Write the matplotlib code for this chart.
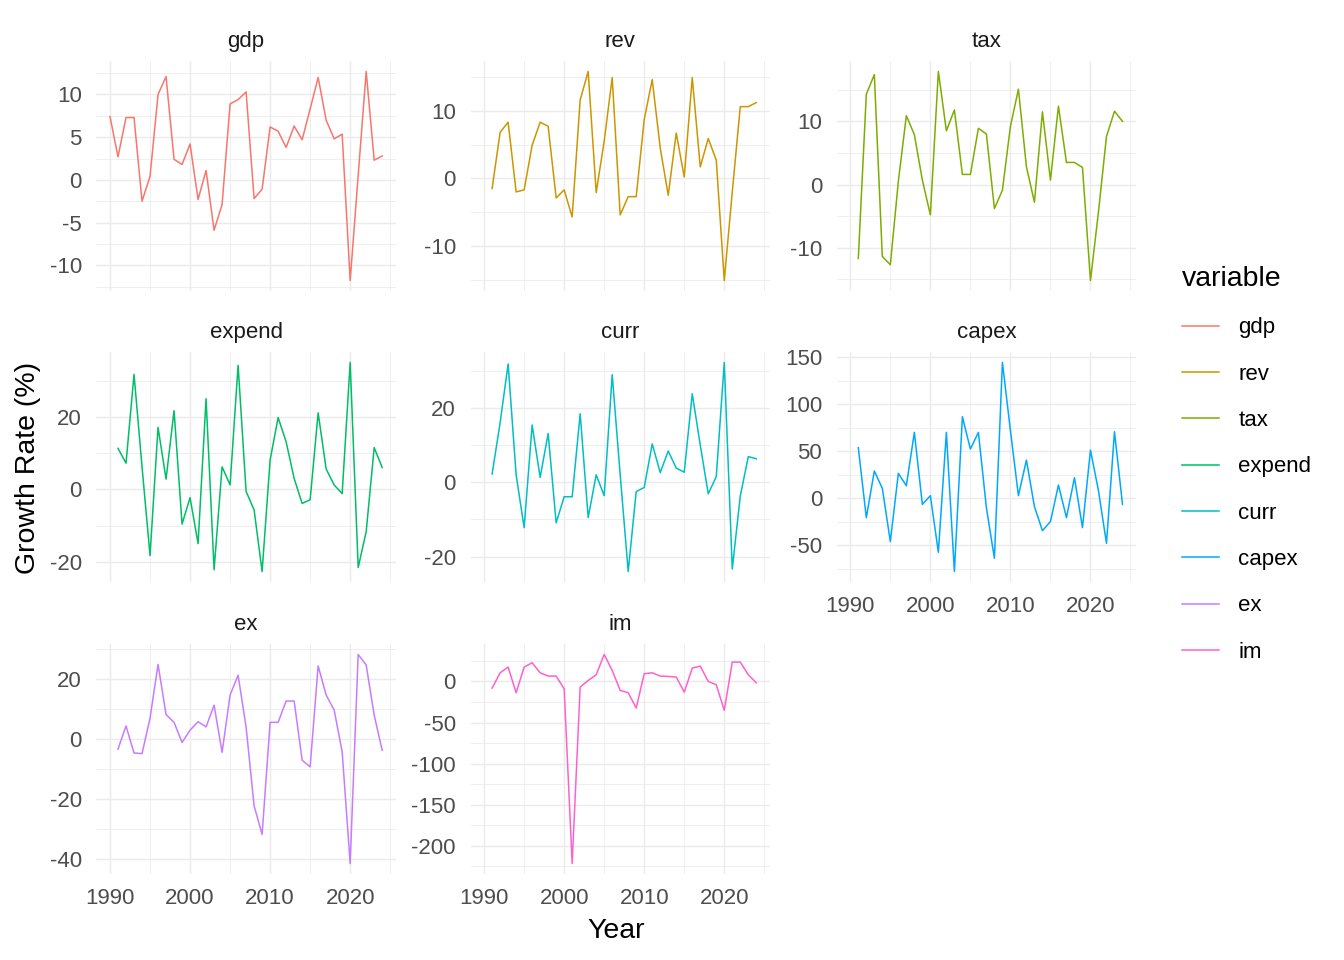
import numpy as np
import matplotlib
matplotlib.use("Agg")
import matplotlib.pyplot as plt
from matplotlib.lines import Line2D

plt.rcParams['font.family'] = ['Liberation Sans', 'DejaVu Sans']
plt.rcParams['axes.unicode_minus'] = False

# ---------------- data ----------------
years_gdp = list(range(1990, 2025))
years = list(range(1991, 2025))

gdp = [7.4, 2.7, 7.3, 7.3, -2.5, 0.4, 10.0, 12.1, 2.4, 1.8, 4.2, -2.3, 1.1, -5.9, -2.9,
       8.9, 9.4, 10.3, -2.2, -1.1, 6.2, 5.7, 3.8, 6.3, 4.7, 8.3, 12.0, 7.0, 4.8, 5.35,
       -11.8, 0.5, 12.7, 2.3, 2.8]
rev = [-1.5, 6.8, 8.3, -2.0, -1.7, 4.9, 8.3, 7.7, -2.9, -1.7, -5.7, 11.6, 15.8, -2.1, 5.5,
       14.9, -5.4, -2.7, -2.7, 8.7, 14.6, 4.5, -2.5, 6.7, 0.2, 14.9, 1.7, 5.9, 2.7, -15.1,
       -2.0, 10.6, 10.6, 11.2]
tax = [-11.7, 14.3, 17.4, -11.4, -12.7, 0.5, 10.9, 7.9, 0.7, -4.8, 17.9, 8.5, 11.8, 1.6, 1.6,
       8.9, 8.0, -3.8, -0.9, 9.2, 15.1, 2.8, -2.8, 11.5, 0.7, 12.4, 3.5, 3.5, 2.7, -15.2,
       -4.3, 7.6, 11.6, 10.0]
expend = [11.3, 7.2, 31.7, 6.2, -18.3, 17.1, 2.8, 21.7, -9.6, -2.3, -15.0, 25.0, -22.2, 6.2, 1.2,
          34.2, -0.6, -5.7, -22.7, 8.1, 19.8, 13.1, 3.0, -3.9, -2.9, 21.1, 5.6, 1.2, -1.2, 35.0,
          -21.6, -11.7, 11.5, 6.0]
curr = [2.2, 16.0, 31.8, 2.0, -12.2, 15.4, 1.3, 13.1, -10.9, -3.9, -3.9, 18.4, -9.5, 2.0, -3.6,
        28.9, 2.0, -24.0, -2.5, -1.4, 10.3, 2.6, 8.4, 3.8, 2.7, 23.8, 10.0, -3.1, 1.5, 32.2,
        -23.3, -3.7, 6.9, 6.3]
capex = [53.7, -20.5, 29.0, 10.6, -45.9, 26.5, 13.4, 70.0, -6.4, 2.8, -57.2, 70.0, -77.7, 86.6, 52.3,
         70.0, -10.0, -63.6, 144.2, 72.0, 2.8, 40.6, -8.8, -34.3, -24.7, 14.1, -20.5, 21.9, -31.1, 51.2,
         8.0, -47.7, 70.7, -6.4]
ex = [-3.3, 4.4, -4.6, -4.8, 7.0, 24.9, 8.2, 5.6, -1.1, 3.0, 5.8, 4.1, 11.3, -4.4, 14.7,
      21.3, 4.0, -22.2, -31.7, 5.6, 5.6, 12.7, 12.7, -7.0, -9.2, 24.4, 14.7, 9.7, -4.2, -41.4,
      28.2, 24.7, 8.0, -3.7]
im = [-8.1, 10.5, 17.4, -13.8, 17.4, 22.7, 10.5, 6.5, 6.5, -8.9, -221.5, -6.9, 1.2, 8.1, 32.8,
      13.4, -10.9, -13.8, -32.4, 9.3, 10.5, 6.5, 6.1, 5.3, -13.0, 16.2, 18.6, 0.0, -4.0, -35.2,
      23.5, 23.5, 8.1, -1.6]

variables = ['gdp', 'rev', 'tax', 'expend', 'curr', 'capex', 'ex', 'im']
series = {'gdp': (years_gdp, gdp), 'rev': (years, rev), 'tax': (years, tax),
          'expend': (years, expend), 'curr': (years, curr), 'capex': (years, capex),
          'ex': (years, ex), 'im': (years, im)}
colors = ['#F8766D', '#CD9600', '#7CAE00', '#00BE67', '#00BFC4', '#00A9FF', '#C77CFF', '#FF61CC']
yticks = {'gdp': [-10, -5, 0, 5, 10], 'rev': [-10, 0, 10], 'tax': [-10, 0, 10],
          'expend': [-20, 0, 20], 'curr': [-20, 0, 20], 'capex': [-50, 0, 50, 100, 150],
          'ex': [-40, -20, 0, 20], 'im': [-200, -150, -100, -50, 0]}
xticks = [1990, 2000, 2010, 2020]

# ---------------- layout ----------------
W, H = 1344, 960
fig = plt.figure(figsize=(W / 100, H / 100), dpi=100)
fig.patch.set_facecolor('white')

col_left = [96.4, 470.5, 836.7]
col_w = 299.4
row_top = [61, 352, 644]
row_h = 230

grid_col = '#EBEBEB'
tick_col = '#4D4D4D'
tick_fs = 16.0
title_fs = 20.5

xmin_all = min(years_gdp)
xmax_all = max(years_gdp)
xexp = (xmax_all - xmin_all) * 0.05

for i, var in enumerate(variables):
    r, c = divmod(i, 3)
    left = col_left[c] / W
    bottom = 1 - (row_top[r] + row_h) / H
    ax = fig.add_axes([left, bottom, col_w / W, row_h / H])
    xs, ys = series[var]
    ax.plot(xs, ys, color=colors[i], lw=1.1, zorder=3)
    ax.set_xlim(xmin_all - xexp, xmax_all + xexp)
    lo, hi = min(ys), max(ys)
    yexp = (hi - lo) * 0.05
    ax.set_ylim(lo - yexp, hi + yexp)
    maj = yticks[var]
    step = maj[1] - maj[0]
    minors = [m for m in np.arange(maj[0] - step / 2, maj[-1] + step, step)
              if lo - yexp <= m <= hi + yexp]
    ax.set_yticks(maj)
    ax.set_yticks(minors, minor=True)
    ax.set_xticks(xticks)
    xminor = [m for m in np.arange(xticks[0] - 5, xticks[-1] + 10, 10)
              if xmin_all - xexp <= m <= xmax_all + xexp]
    ax.set_xticks(xminor, minor=True)
    ax.grid(which='major', color=grid_col, lw=1.05)
    ax.grid(which='minor', color=grid_col, lw=0.55)
    ax.set_axisbelow(True)
    for s in ax.spines.values():
        s.set_visible(False)
    ax.tick_params(which='both', length=0)
    ax.tick_params(axis='y', labelsize=tick_fs, labelcolor=tick_col, pad=10.5)
    show_x = (r == 2) or (var == 'capex')
    ax.tick_params(axis='x', labelsize=tick_fs, labelcolor=tick_col, pad=10.3,
                   labelbottom=show_x)
    ax.set_facecolor('white')
    # strip label
    fig.text((col_left[c] + col_w / 2) / W, 1 - (row_top[r] - 19.5) / H, var,
             ha='center', va='center', fontsize=tick_fs, color='#1A1A1A')

# axis titles
fig.text((col_left[0] + col_left[2] + col_w) / 2 / W, 1 - 931 / H, 'Year',
         ha='center', va='center', fontsize=title_fs, color='black')
fig.text(28 / W, 1 - (row_top[0] + row_top[2] + row_h) / 2 / H, 'Growth Rate (%)',
         ha='center', va='center', rotation=90, fontsize=title_fs, color='black')

# legend
handles = [Line2D([0], [0], color=col, lw=1.1) for col in colors]
leg = fig.legend(handles, variables, loc='upper left',
                 bbox_to_anchor=(1171 / W, 1 - 255 / H), frameon=False,
                 title='variable', title_fontsize=title_fs, fontsize=tick_fs,
                 handlelength=1.67, handletextpad=0.86, labelspacing=1.14,
                 borderpad=0.0)
leg._legend_box.align = 'left'
for t in leg.get_texts():
    t.set_color('black')

fig.savefig('out.png', dpi=100, facecolor='white')
